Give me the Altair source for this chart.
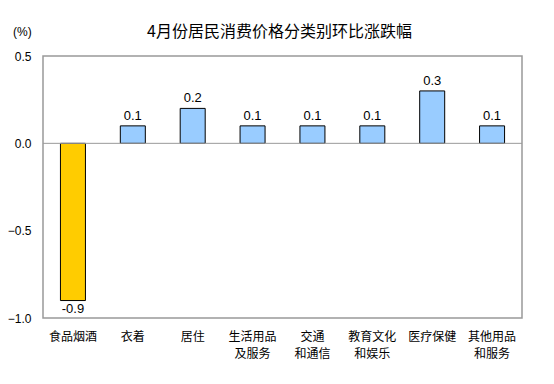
import altair as alt
import pandas as pd

categories = ["食品烟酒", "衣着", "居住", "生活用品\n及服务", "交通\n和通信", "教育文化\n和娱乐", "医疗保健", "其他用品\n和服务"]
values = [-0.9, 0.1, 0.2, 0.1, 0.1, 0.1, 0.3, 0.1]
colors = ["#FFCC00", "#99CCFF", "#99CCFF", "#99CCFF", "#99CCFF", "#99CCFF", "#99CCFF", "#99CCFF"]
y_ticks = [-1.0, -0.5, 0.0, 0.5]
unit_label = "(%)"

df = pd.DataFrame({"cat": categories, "val": values, "color": colors})
df["lbl"] = df["val"].map(lambda v: f"{v:.1f}")

x = alt.X("cat:N", sort=categories, title=None,
          scale=alt.Scale(paddingInner=0, paddingOuter=0),
          axis=alt.Axis(labelAngle=0, labelExpr="split(datum.label, '\\n')",
                        labelFont="Noto Sans CJK SC", labelFontSize=12, labelColor="#000",
                        labelPadding=13, ticks=False, domain=False, labelLineHeight=17,
                        labelBaseline="top"))
y = alt.Y("val:Q", title=None,
          scale=alt.Scale(domain=[-1.0, 0.5], nice=False, zero=False),
          axis=alt.Axis(values=y_ticks, format=".1f", grid=False, ticks=False, domain=False,
                        labelFont="Liberation Sans", labelFontSize=12, labelColor="#000",
                        labelPadding=12))

bars = alt.Chart(df).mark_bar(size=25, stroke="#000", strokeWidth=1).encode(
    x=x, y=y, color=alt.Color("color:N", scale=None))

zero = alt.Chart(pd.DataFrame({"z": [0.0]})).mark_rule(color="#999", strokeWidth=1).encode(y="z:Q")

pos = alt.Chart(df).transform_filter("datum.val >= 0").mark_text(
    baseline="bottom", dy=-3, font="Liberation Sans", fontSize=13, color="#000").encode(
    x=alt.X("cat:N", sort=categories), y="val:Q", text="lbl:N")
neg = alt.Chart(df).transform_filter("datum.val < 0").mark_text(
    baseline="top", dy=2, font="Liberation Sans", fontSize=13, color="#000").encode(
    x=alt.X("cat:N", sort=categories), y="val:Q", text="lbl:N")

unit = alt.Chart(pd.DataFrame({"t": [unit_label]})).mark_text(
    align="left", baseline="middle", font="Liberation Sans", fontSize=12, color="#000").encode(
    x=alt.value(-30), y=alt.value(-24), text="t:N")

chart = alt.layer(bars, zero, pos, neg, unit).properties(
    width=479, height=262,
    autosize=alt.AutoSizeParams(type="none"),
    padding={"left": 35, "top": 48, "right": 24, "bottom": 58},
    title=alt.TitleParams("4月份居民消费价格分类别环比涨跌幅", font="Noto Sans CJK SC",
                          fontSize=16, fontWeight="normal", color="#000", offset=14, dx=-3, dy=28),
).configure_view(stroke="#999", strokeWidth=1.5)

chart.save("out.html", embed_options={"renderer": "svg", "actions": False})
